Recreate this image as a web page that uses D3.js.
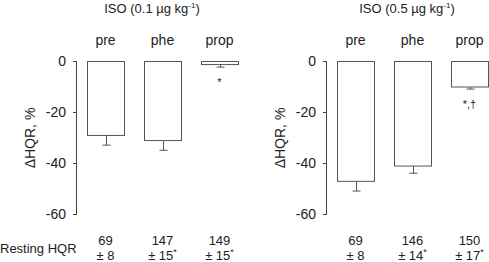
<!DOCTYPE html>
<html><head><meta charset="utf-8">
<script src="https://cdn.jsdelivr.net/npm/d3@7"></script>
<style>body{margin:0;background:#fff}svg{display:block;font-family:"Liberation Sans",Arial,sans-serif}</style>
</head><body><svg id="c" width="489" height="262"></svg>
<script>
const categories = ["pre","phe","prop"];
const titles = ["ISO (0.1 \u00b5g kg", "ISO (0.5 \u00b5g kg"];
const lowDoseValues = [-29, -31, -1.2];
const lowDoseErrors = [4, 4, 1.2];
const highDoseValues = [-47, -41, -10];
const highDoseErrors = [4, 3, 1];
const lowDoseSig = ["", "", "*"];
const highDoseSig = ["", "", "*,\u2020"];
const restingLabel = "Resting HQR";
const lowDoseResting = ["69","147","149"];
const lowDoseRestingSD = ["\u00b1 8","\u00b1 15","\u00b1 15"];
const lowDoseRestingStar = ["","*","*"];
const highDoseResting = ["69","146","150"];
const highDoseRestingSD = ["\u00b1 8","\u00b1 14","\u00b1 17"];
const highDoseRestingStar = ["","*","*"];
const yTicks = [0,-20,-40,-60];

const svg = d3.select("#c");
const y = d3.scaleLinear().domain([-60,0]).range([214,61]);
const stroke = "#555";

function panel(axisX, r0, title, values, errors, sig, rest, restSD, restStar, titleX) {
  const g = svg.append("g");
  const x = d3.scaleBand().domain(categories).range([r0, r0+171]).paddingInner(0.35).paddingOuter(0.175);
  const ax = g.append("g").attr("transform", `translate(${axisX},0)`)
    .call(d3.axisLeft(y).tickValues(yTicks).tickSize(4).tickPadding(7).tickFormat(d => String(d)));
  ax.select(".domain").attr("stroke", "#444").attr("d", `M-0.5,${y(0)}V${y(-60)}`);
  ax.selectAll(".tick line").attr("stroke", "#444");
  ax.selectAll(".tick text").attr("font-size", 14).attr("fill", "#222").attr("font-family","Liberation Sans, Arial, sans-serif");
  // y label
  g.append("text").attr("transform", `translate(${axisX-47},138) rotate(-90)`)
    .attr("text-anchor","middle").attr("dy","0.35em").attr("font-size",14).attr("fill","#222").text("\u0394HQR, %");
  // title
  const t = g.append("text").attr("x", titleX).attr("y", 13).attr("text-anchor","middle").attr("font-size",13).attr("fill","#222");
  t.append("tspan").text(title);
  t.append("tspan").attr("font-size",8).attr("dy",-5).text("-1");
  t.append("tspan").attr("dy",5).text(")");
  // category labels
  g.selectAll(".cat").data(categories).join("text").attr("x", d => x(d)+x.bandwidth()/2).attr("y", 45)
    .attr("text-anchor","middle").attr("font-size",14).attr("fill","#222").text(d => d);
  const data = categories.map((c,i) => ({c, v: values[i], e: errors[i], s: sig[i]}));
  // error bars
  g.selectAll(".err").data(data).join("path").attr("fill","none").attr("stroke",stroke)
    .attr("d", d => { const cx = Math.round(x(d.c)+x.bandwidth()/2)+0.5; return `M${cx},${y(d.v)}V${y(d.v-d.e)}M${cx-4},${y(d.v-d.e)}H${cx+4}`; });
  // bars
  g.selectAll(".bar").data(data).join("rect")
    .attr("x", d => Math.round(x(d.c))+0.5).attr("y", y(0)+0.5)
    .attr("width", Math.round(x.bandwidth())).attr("height", d => y(d.v)-y(0))
    .attr("fill","#fff").attr("stroke",stroke);
  // significance
  g.selectAll(".sig").data(data).join("text").attr("x", d => x(d.c)+x.bandwidth()/2)
    .attr("y", d => y(d.v-d.e)+19).attr("text-anchor","middle").attr("font-size",11).attr("fill","#222").text(d => d.s);
  // resting values
  categories.forEach((c,i) => {
    const cx = x(c)+x.bandwidth()/2;
    g.append("text").attr("x", cx).attr("y", 245).attr("text-anchor","middle").attr("font-size",13).attr("fill","#222").text(rest[i]);
    const tt = g.append("text").attr("x", cx).attr("y", 260).attr("text-anchor","middle").attr("font-size",13).attr("fill","#222");
    tt.append("tspan").text(restSD[i]);
    if (restStar[i]) tt.append("tspan").attr("font-size",9).attr("dy",-5).text(restStar[i]);
  });
}
panel(77, 77, titles[0], lowDoseValues, lowDoseErrors, lowDoseSig, lowDoseResting, lowDoseRestingSD, lowDoseRestingStar, 152);
panel(327, 327, titles[1], highDoseValues, highDoseErrors, highDoseSig, highDoseResting, highDoseRestingSD, highDoseRestingStar, 407);
svg.append("text").attr("x", 0).attr("y", 253).attr("font-size",13).attr("fill","#222").text(restingLabel);
</script></body></html>
